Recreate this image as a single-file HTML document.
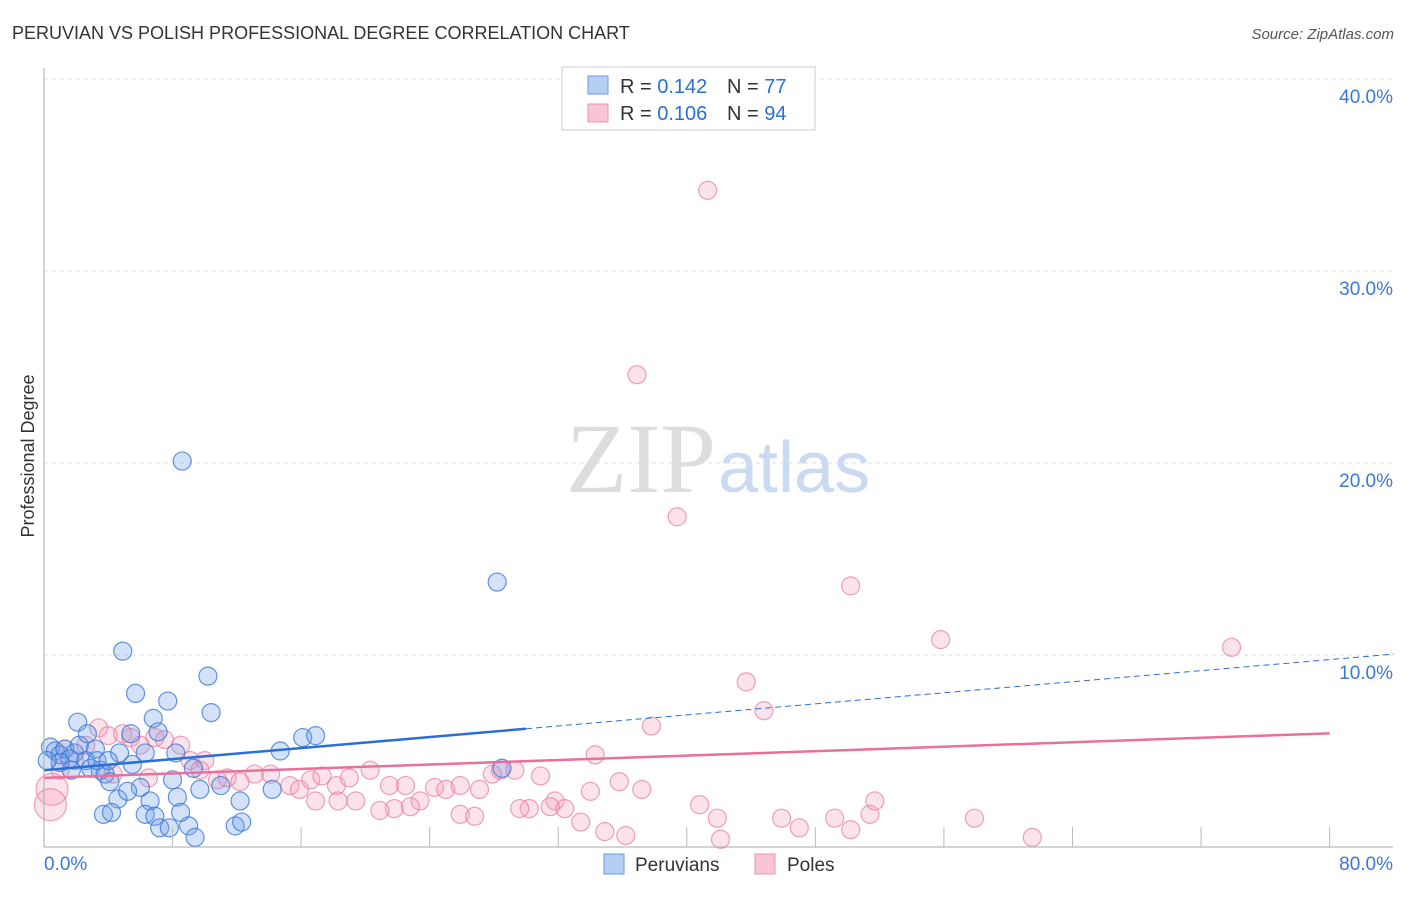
<!DOCTYPE html>
<html><head><meta charset="utf-8"><style>
body{margin:0;background:#fff;font-family:"Liberation Sans",sans-serif;}
svg text{font-family:"Liberation Sans",sans-serif;}
</style></head><body>
<svg width="1406" height="892" id="c">
<text x="12" y="39" font-size="18" fill="#333">PERUVIAN VS POLISH PROFESSIONAL DEGREE CORRELATION CHART</text>
<text x="1394" y="39" font-size="15" fill="#555" font-style="italic" text-anchor="end">Source: ZipAtlas.com</text>
<text x="34" y="456" font-size="18" fill="#333" text-anchor="middle" transform="rotate(-90 34 456)">Professional Degree</text>
<text x="716" y="492" font-size="100" fill="#ddd" text-anchor="end" style="font-family:'Liberation Serif',serif">ZIP</text>
<text x="718" y="492" font-size="72" fill="#c9daf2">atlas</text>
<g id="grid"></g><g id="pts"></g><g id="lines"></g><g id="axes"></g>
<g>
<rect x="562" y="67" width="253" height="63" fill="#fff" stroke="#ccc"/>
<rect x="588" y="76" width="20" height="18" fill="#b5cff3" stroke="#6b9ae0"/>
<rect x="588" y="104" width="20" height="18" fill="#f8c5d6" stroke="#ee93b3"/>
<text x="620" y="93" font-size="20" fill="#333">R = <tspan fill="#2a6fd6">0.142</tspan></text>
<text x="727" y="93" font-size="20" fill="#333">N = <tspan fill="#2a6fd6">77</tspan></text>
<text x="620" y="120" font-size="20" fill="#333">R = <tspan fill="#2a6fd6">0.106</tspan></text>
<text x="727" y="120" font-size="20" fill="#333">N = <tspan fill="#2a6fd6">94</tspan></text>
</g>
<g>
<rect x="604" y="854" width="20" height="20" fill="#b5cff3" stroke="#6b9ae0"/>
<text x="635" y="871" font-size="19" fill="#333">Peruvians</text>
<rect x="755" y="854" width="20" height="20" fill="#f8c5d6" stroke="#ee93b3"/>
<text x="787" y="871" font-size="19" fill="#333">Poles</text>
</g>
</svg>
<script>
const blueX=[0.4,0.7,1.0,1.3,1.6,1.9,2.2,2.6,2.9,3.2,3.5,3.8,4.1,2.1,2.7,4.9,5.7,7.7,6.8,7.1,8.6,10.2,10.4,28.2,16.1,16.9,14.7,4.7,5.5,6.3,8.2,9.3,6.0,6.6,8.3,9.7,12.2,4.6,5.2,3.7,4.2,6.3,6.9,7.2,7.8,9.0,9.4,11.9,12.3,8.5,14.2,28.5,5.4,8.0,11.0,1.0,1.7,3.3,4.0,0.2];
const blueY=[5.2,5.0,4.8,5.1,4.6,4.9,5.3,4.5,4.1,5.1,4.0,3.8,3.4,6.5,5.9,10.2,8.0,7.6,6.7,6.0,20.1,8.9,7.0,13.8,5.7,5.8,5.0,4.9,4.3,4.9,4.9,4.1,3.1,2.4,2.6,3.0,2.4,2.5,2.9,1.7,1.8,1.7,1.6,1.0,1.0,1.1,0.5,1.1,1.3,1.8,3.0,4.1,5.9,3.5,3.2,4.4,4.0,4.5,4.5,4.5];
const pinkX=[41.3,36.9,39.4,50.2,55.8,73.9,43.7,44.8,37.8,34.3,0.5,0.4,1.0,1.9,3.4,4.0,4.9,5.4,6.0,6.9,7.5,8.5,9.1,10.0,10.8,11.4,12.2,13.1,14.1,15.3,15.9,16.6,17.3,18.2,19.0,20.3,21.5,22.5,23.4,24.3,25.0,25.9,27.1,27.9,28.4,29.3,30.2,30.9,31.8,32.4,33.4,34.0,34.9,35.8,36.2,37.2,40.8,41.9,42.1,45.9,47.0,49.2,50.2,51.4,51.7,57.9,61.5,1.3,2.6,4.3,6.5,9.7,16.9,21.8,22.8,25.9,26.8,29.6,31.5,18.3,19.4,20.9];
const pinkY=[34.2,24.6,17.2,13.6,10.8,10.4,8.6,7.1,6.3,4.8,3.0,2.2,4.0,4.5,6.2,5.8,5.9,5.7,5.3,5.7,5.6,5.3,4.5,4.5,3.5,3.6,3.4,3.8,3.8,3.2,3.0,3.5,3.7,3.2,3.6,4.0,3.2,3.2,2.4,3.1,3.0,3.2,3.0,3.8,4.0,4.0,2.0,3.7,2.4,2.0,1.3,2.9,0.8,3.4,0.6,3.0,2.2,1.5,0.4,1.5,1.0,1.5,0.9,1.7,2.4,1.5,0.5,5.1,5.3,3.8,3.6,4.0,2.4,2.0,2.1,1.7,1.6,2.0,2.1,2.4,2.4,1.9];
const yTicks=[10,20,30,40];
const xTicks=[8,16,24,32,40,48,56,64,72,80];
const blueTrend=[4.0,0.072]; const pinkTrend=[3.6,0.029];
const X=v=>44+v*16.07, Y=v=>847-v*19.2;
const NS='http://www.w3.org/2000/svg';
function mk(p,t,a){const e=document.createElementNS(NS,t);for(const k in a)e.setAttribute(k,a[k]);p.appendChild(e);return e;}
const grid=document.getElementById('grid'),axes=document.getElementById('axes'),pts=document.getElementById('pts'),lines=document.getElementById('lines');
yTicks.forEach(t=>{
 const l=mk(grid,'line',{x1:44,x2:1393,y1:Y(t),y2:Y(t),stroke:'#ddd','stroke-dasharray':'4 4'});
 
 
 const tx=mk(axes,'text',{x:1393,y:Y(t)+24,'font-size':19,fill:'#3a78d4','text-anchor':'end'});tx.textContent=t.toFixed(1)+'%';
 
 
});
mk(axes,'line',{x1:44,x2:44,y1:68,y2:847,stroke:'#aaa'});
mk(axes,'line',{x1:44,x2:1393,y1:847,y2:847,stroke:'#aaa'});
xTicks.forEach(t=>{const l=mk(axes,'line',{x1:X(t),x2:X(t),y1:827,y2:847,stroke:'#bbb'});
 
 });
[[0,'start',44],[80,'end',1393]].forEach(([v,a,x])=>{const tx=mk(axes,'text',{x:x,y:870,'font-size':19,fill:'#3a78d4','text-anchor':a});tx.textContent=v.toFixed(1)+'%';
 
 });
function drawPts(xs,ys,fill,stroke,name,bigIdx){xs.forEach((x,i)=>{const r=(bigIdx.includes(i))?16:9;
 const c=mk(pts,'circle',{cx:X(x),cy:Y(ys[i]),r:r,fill:fill,stroke:stroke,'stroke-width':1.2});
 
 });}
drawPts(pinkX,pinkY,'rgba(244,160,190,0.3)','rgba(232,120,160,0.7)','pole-point',[10,11]);
drawPts(blueX,blueY,'rgba(110,160,235,0.3)','rgba(60,120,215,0.8)','peruvian-point',[]);
let l=mk(lines,'line',{x1:X(0),y1:Y(blueTrend[0]),x2:X(30),y2:Y(blueTrend[0]+30*blueTrend[1]),stroke:'#2a6fd6','stroke-width':2.5});


l=mk(lines,'line',{x1:X(30),y1:Y(blueTrend[0]+30*blueTrend[1]),x2:X(84),y2:Y(blueTrend[0]+84*blueTrend[1]),stroke:'#2a6fd6','stroke-width':1,'stroke-dasharray':'6 4'});


l=mk(lines,'line',{x1:X(0),y1:Y(pinkTrend[0]),x2:X(80),y2:Y(pinkTrend[0]+80*pinkTrend[1]),stroke:'#e8709a','stroke-width':2.5});


</script>
</body></html>
